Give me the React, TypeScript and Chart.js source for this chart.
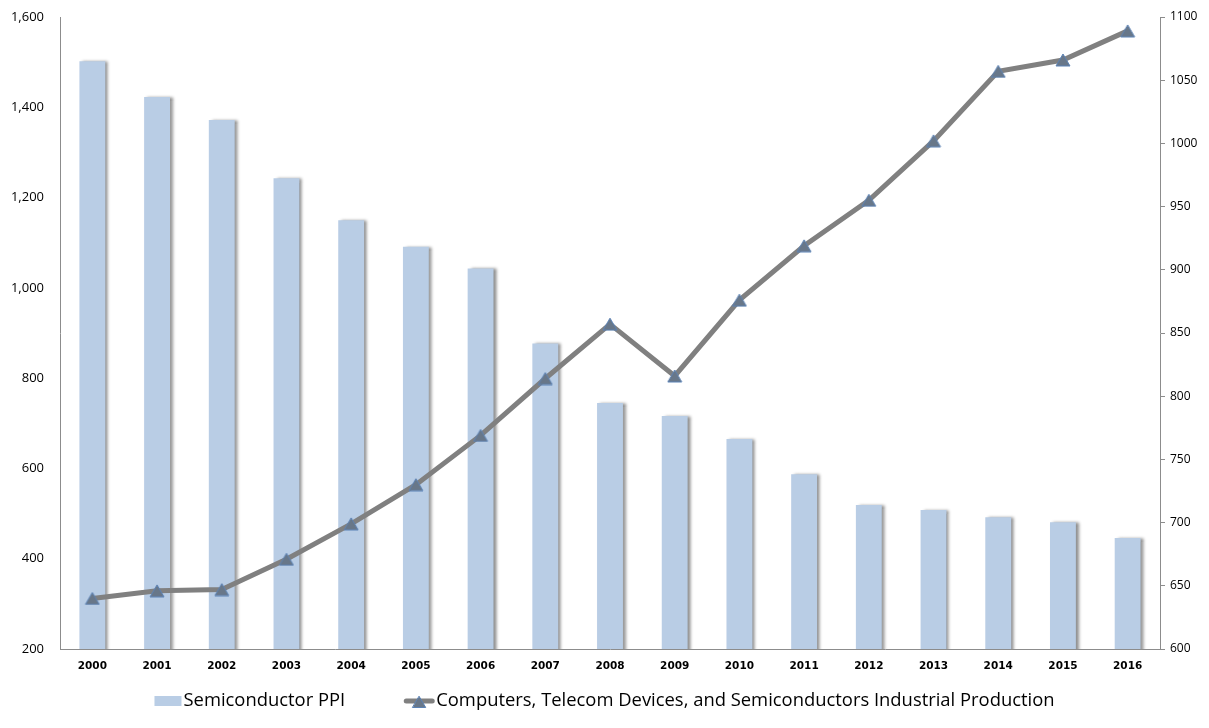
import React, { useEffect, useRef } from "react";
import { Chart, registerables } from "chart.js";

Chart.register(...registerables);

const years = ["2000","2001","2002","2003","2004","2005","2006","2007","2008","2009","2010","2011","2012","2013","2014","2015","2016"];
const ppiValues = [1502,1423,1372,1243,1150,1091,1043,877,745,716,665,587,519,508,492,481,446];
const productionValues = [640,646,647,671,699,730,769,814,857,816,876,919,955,1002,1057,1066,1089];
const leftTicks = [200,400,600,800,1000,1200,1400,1600];
const rightTicks = [600,650,700,750,800,850,900,950,1000,1050,1100];
const legendLabels = ["Semiconductor PPI", "Computers, Telecom Devices, and Semiconductors Industrial Production"];

const BAR_COLOR = "#B9CDE5";
const LINE_COLOR = "#808080";
const TRI_FILL = "#687789";
const TRI_BORDER = "#5B82B5";
const LEGEND_FONT = "18.4px 'Open Sans', sans-serif";

function drawTriangle(ctx: CanvasRenderingContext2D, cx: number, cy: number, w: number, h: number) {
  ctx.beginPath();
  ctx.moveTo(cx, cy - h / 2);
  ctx.lineTo(cx + w / 2, cy + h / 2);
  ctx.lineTo(cx - w / 2, cy + h / 2);
  ctx.closePath();
  ctx.fillStyle = TRI_FILL;
  ctx.fill();
  ctx.strokeStyle = TRI_BORDER;
  ctx.lineWidth = 1;
  ctx.stroke();
}

function makeTriangleIcon(): HTMLCanvasElement {
  const c = document.createElement("canvas");
  c.width = 16; c.height = 14;
  const ctx = c.getContext("2d")!;
  drawTriangle(ctx, 8, 7, 14, 12);
  return c;
}

const shadowPlugin = {
  id: "barShadow",
  beforeDatasetDraw(chart: any, args: any) {
    if (args.index === 1) {
      const ctx = chart.ctx;
      ctx.save();
      ctx.shadowColor = "rgba(0,0,0,0.45)";
      ctx.shadowOffsetX = 3;
      ctx.shadowOffsetY = 0;
      ctx.shadowBlur = 3;
    }
  },
  afterDatasetDraw(chart: any, args: any) {
    if (args.index === 1) chart.ctx.restore();
  },
};

const legendPlugin = {
  id: "customLegend",
  afterDraw(chart: any) {
    const ctx = chart.ctx;
    ctx.save();
    ctx.font = LEGEND_FONT;
    const w1 = ctx.measureText(legendLabels[0]).width;
    const w2 = ctx.measureText(legendLabels[1]).width;
    const box1 = 27, box2 = 30, gapText = 2, gapItems = 59;
    const total = box1 + gapText + w1 + gapItems + box2 + gapText + w2;
    let x = chart.width / 2 - total / 2;
    const cy = 701;
    ctx.fillStyle = BAR_COLOR;
    ctx.fillRect(x, cy - 5, box1, 10);
    x += box1 + gapText;
    ctx.fillStyle = "#000";
    ctx.textBaseline = "middle";
    ctx.textAlign = "left";
    ctx.fillText(legendLabels[0], x, cy);
    x += w1 + gapItems;
    ctx.strokeStyle = LINE_COLOR;
    ctx.lineWidth = 5;
    ctx.lineCap = "round";
    ctx.beginPath(); ctx.moveTo(x + 2, cy); ctx.lineTo(x + box2 - 2, cy); ctx.stroke();
    drawTriangle(ctx, x + box2 / 2, cy + 1, 13, 11);
    x += box2 + gapText;
    ctx.fillStyle = "#000";
    ctx.fillText(legendLabels[1], x, cy);
    ctx.restore();
  },
};

export default function App() {
  const ref = useRef<HTMLCanvasElement>(null);
  useEffect(() => {
    document.body.style.margin = "0";
    const tri = makeTriangleIcon();
    const chart = new Chart(ref.current!, {
      data: {
        labels: years,
        datasets: [
          {
            type: "line",
            label: legendLabels[1],
            data: productionValues,
            yAxisID: "y2",
            borderColor: LINE_COLOR,
            borderWidth: 5,
            pointStyle: tri,
            pointRadius: 7,
            tension: 0,
            order: 0,
          } as any,
          {
            type: "bar",
            label: legendLabels[0],
            data: ppiValues,
            yAxisID: "y",
            backgroundColor: BAR_COLOR,
            barPercentage: 0.4,
            categoryPercentage: 1,
            order: 1,
          } as any,
        ],
      },
      options: {
        animation: false,
        responsive: false,
        layout: { padding: { top: 17, left: 0, right: 0, bottom: 49 } },
        plugins: {
          tooltip: { enabled: false },
          legend: { display: false },
        },
        scales: {
          x: {
            type: "category",
            offset: true,
            afterFit: (s: any) => { s.height = 30; s.paddingLeft = 0; s.paddingRight = 0; },
            grid: { display: false, drawTicks: false },
            border: { display: true, color: "#8C8C8C", width: 1 },
            ticks: { color: "#000", font: { family: "'DejaVu Sans', sans-serif", size: 10.5, weight: "bold" }, padding: 11, maxRotation: 0 },
          },
          y: {
            type: "linear",
            position: "left",
            min: 200,
            max: 1600,
            afterBuildTicks: (s: any) => { s.ticks = leftTicks.map((v) => ({ value: v })); },
            afterFit: (s: any) => { s.width = 60; s.paddingTop = 0; s.paddingBottom = 0; },
            grid: { display: false, drawTicks: false },
            border: { display: true, color: "#8C8C8C", width: 1 },
            ticks: {
              color: "#000",
              font: { family: "'Open Sans', sans-serif", size: 13 },
              padding: 16,
              callback: (v: any) => Number(v).toLocaleString("en-US"),
            },
          },
          y2: {
            type: "linear",
            position: "right",
            min: 600,
            max: 1100,
            afterBuildTicks: (s: any) => { s.ticks = rightTicks.map((v) => ({ value: v })); },
            afterFit: (s: any) => { s.width = 49; s.paddingTop = 0; s.paddingBottom = 0; },
            grid: { display: true, drawOnChartArea: false, drawTicks: true, tickLength: 5, color: "#8C8C8C" },
            border: { display: true, color: "#8C8C8C", width: 1 },
            ticks: { color: "#000", font: { family: "'Open Sans', sans-serif", size: 12 }, padding: 5, callback: (v: any) => String(v) },
          },
        },
      },
      plugins: [shadowPlugin, legendPlugin],
    } as any);
    return () => chart.destroy();
  }, []);
  return (
    <div style={{ position: "absolute", left: 0, top: 0, width: 1209, height: 728, background: "#fff" }}>
      <canvas ref={ref} width={1209} height={728} style={{ width: 1209, height: 728 }} />
    </div>
  );
}
